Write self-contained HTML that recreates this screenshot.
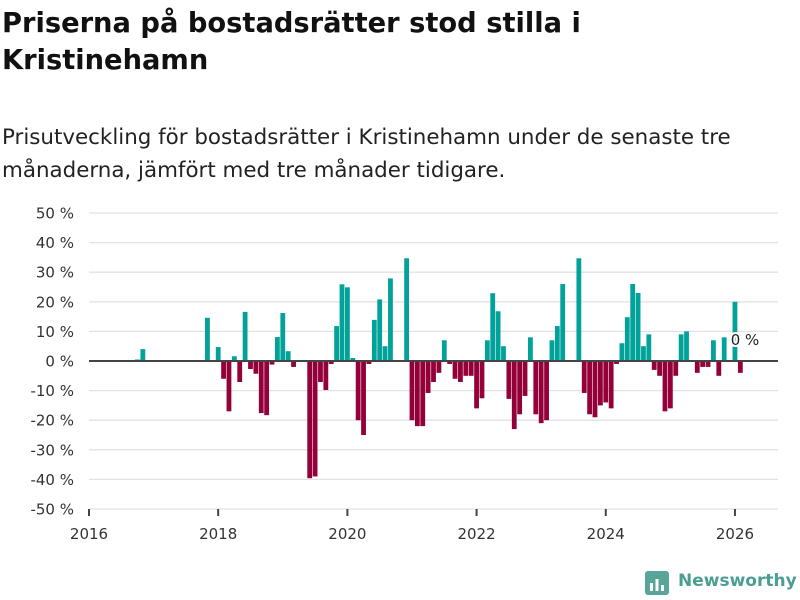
<!DOCTYPE html>
<html><head><meta charset="utf-8"><style>
body{margin:0;background:#fff;font-family:"DejaVu Sans",sans-serif;}
#wrap{position:relative;width:800px;height:600px;overflow:hidden;}
h1{position:absolute;left:2px;top:5px;margin:0;font-size:27.3px;line-height:37px;font-weight:bold;color:#111;font-family:"DejaVu Sans",sans-serif;}
p.sub{position:absolute;left:2px;top:121px;margin:0;font-size:21.4px;line-height:33px;color:#222;font-family:"DejaVu Sans",sans-serif;}
</style></head><body>
<div id="wrap">
<h1>Priserna på bostadsrätter stod stilla i<br>Kristinehamn</h1>
<p class="sub">Prisutveckling för bostadsrätter i Kristinehamn under de senaste tre<br>månaderna, jämfört med tre månader tidigare.</p>
<svg id="chart" width="800" height="600" style="position:absolute;left:0;top:0"></svg>
<div style="position:absolute;left:645px;top:570px;width:155px;height:28px;">
<svg width="26" height="26" style="position:absolute;left:0;top:1px"><rect x="0" y="0" width="24" height="24" rx="3" fill="#5aa59a"/><rect x="5" y="12" width="3" height="8" fill="#fff"/><rect x="10.5" y="8" width="3" height="12" fill="#fff"/><rect x="16" y="14" width="3" height="6" fill="#fff"/></svg>
<span style="position:absolute;left:33px;top:1px;font-size:17px;font-weight:bold;color:#4a9e92;font-family:'DejaVu Sans',sans-serif;">Newsworthy</span>
</div>
</div>
<script>
const startYear = 2016;
const values = [null,null,null,null,null,null,null,null,null,0.5,4,null,
null,null,null,null,null,null,null,null,null,null,14.6,null,
4.7,-6,-17,1.6,-7.1,16.6,-2.7,-4.3,-17.6,-18.3,-1.2,8.1,
16.2,3.3,-2,null,null,-39.6,-39,-7.1,-9.8,-1,11.8,25.9,
24.9,1,-20,-25,-1,13.9,20.8,5,27.9,null,null,34.7,
-20,-22,-22,-10.8,-7.1,-4,7,-1,-6,-7.1,-5,-5,
-16,-12.6,7,22.9,16.8,5,-12.8,-23,-18,-11.8,8,-18,
-21,-20,7,11.8,26,null,null,34.7,-10.8,-18,-19,-15,
-14,-16,-1,6,14.8,26,23,5,9,-3,-5,-17,
-16,-5,9,10,null,-4,-2,-2,7,-5,8,null,
20,-4,0];
const yTicks = [50,40,30,20,10,0,-10,-20,-30,-40,-50];
const xTicks = [2016,2018,2020,2022,2024,2026];
const lastLabel = "0 %";

const svg = document.getElementById('chart');
const NS = 'http://www.w3.org/2000/svg';
const X0 = 89, PXM = 5.383, Y0 = 361, PXV = 2.96;
const xs = m => X0 + m * PXM;
const ys = v => Y0 - v * PXV;
const FF = 'DejaVu Sans, sans-serif';
function mk(t, a){const e=document.createElementNS(NS,t);for(const k in a)e.setAttribute(k,a[k]);svg.appendChild(e);return e;}
yTicks.forEach(v=>{
  const g = mk('line',{x1:89,x2:778,y1:ys(v),y2:ys(v),stroke:'#e2e2e2','stroke-width':1.3});
  
  
  const t = mk('text',{x:74,y:ys(v)+5.5,'text-anchor':'end','font-size':15,fill:'#333','font-family':FF});
  t.textContent = v + ' %';
  
  
});
xTicks.forEach(y=>{
  const x = xs((y-startYear)*12);
  const tk = mk('line',{x1:x,x2:x,y1:509,y2:516,stroke:'#444','stroke-width':2});
  
  
  const t = mk('text',{x:x,y:539,'text-anchor':'middle','font-size':15,fill:'#333','font-family':FF});
  t.textContent = y;
  
  
});
values.forEach((v,i)=>{
  if(v===null||v===0) return;
  const x = xs(i);
  const r = mk('rect',{x:x-2.4,width:4.8,y:v>0?ys(v):Y0,height:Math.abs(v)*PXV,fill:v>0?'#00a29a':'#93003a'});
  
  
});
const zl = mk('line',{x1:89,x2:778,y1:Y0,y2:Y0,stroke:'#444','stroke-width':2});


const li = values.length-1;
const lb = mk('text',{x:xs(li)-15,y:345,'font-size':15,fill:'#222',stroke:'#fff','stroke-width':4,'paint-order':'stroke','font-family':FF});
lb.textContent = lastLabel;


</script>
</body></html>
